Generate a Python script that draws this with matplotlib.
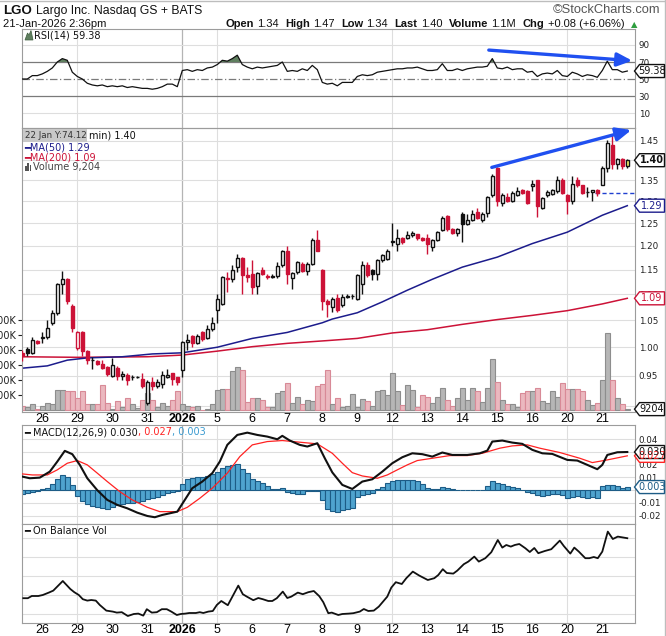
import matplotlib
matplotlib.use("Agg")
import matplotlib.pyplot as plt
import matplotlib.transforms as mtransforms
from matplotlib import font_manager
from matplotlib.patches import Polygon, Rectangle
from matplotlib.offsetbox import TextArea, HPacker, AnnotationBbox
from matplotlib.ticker import NullLocator
from matplotlib.lines import Line2D
import numpy as np

# LGO hourly bars, 24-Dec-2025 .. 21-Jan-2026 (bar index 0..121)
opens = [0.99, 0.997, 0.99, 1.012, 1.017, 1.018, 1.045, 1.063, 1.12, 1.13,
         1.077, 0.998, 1.027, 0.993, 0.978, 0.976, 0.971, 0.965, 0.95, 0.964,
         0.95, 0.952, 0.947, 0.948, 0.944, 0.905, 0.939, 0.933, 0.936, 0.948,
         0.954, 0.947, 0.96, 1.01, 1.021, 1.008, 1.027, 1.017, 1.034, 1.07,
         1.08, 1.132, 1.13, 1.155, 1.175, 1.138, 1.14, 1.117, 1.15, 1.137,
         1.135, 1.136, 1.16, 1.19, 1.132, 1.145, 1.162, 1.148, 1.162, 1.213,
         1.15, 1.087, 1.075, 1.092, 1.078, 1.095, 1.097, 1.09, 1.12, 1.16,
         1.15, 1.14, 1.17, 1.172, 1.21, 1.205, 1.217, 1.217, 1.224, 1.225,
         1.218, 1.217, 1.198, 1.212, 1.235, 1.267, 1.237, 1.228, 1.27, 1.248,
         1.258, 1.275, 1.257, 1.273, 1.315, 1.38, 1.296, 1.31, 1.30, 1.315,
         1.328, 1.325, 1.337, 1.35, 1.285, 1.315, 1.318, 1.325, 1.352, 1.315,
         1.30, 1.35, 1.338, 1.322, 1.322, 1.327, 1.34, 1.38, 1.44, 1.39,
         1.404, 1.385]
highs = [0.995, 1.0, 1.019, 1.013, 1.027, 1.05, 1.07, 1.122, 1.148, 1.132,
         1.08, 1.03, 1.03, 0.995, 0.983, 0.977, 0.978, 0.966, 0.98, 0.966,
         0.958, 0.954, 0.952, 0.95, 0.955, 0.942, 0.948, 0.945, 0.958, 0.962,
         0.955, 0.948, 1.012, 1.025, 1.022, 1.025, 1.03, 1.04, 1.055, 1.10,
         1.137, 1.145, 1.16, 1.182, 1.177, 1.155, 1.17, 1.145, 1.155, 1.14,
         1.14, 1.165, 1.192, 1.2, 1.145, 1.168, 1.165, 1.165, 1.218, 1.235,
         1.152, 1.09, 1.095, 1.1, 1.1, 1.1, 1.1, 1.14, 1.168, 1.165,
         1.152, 1.172, 1.182, 1.193, 1.25, 1.237, 1.22, 1.232, 1.232, 1.227,
         1.22, 1.225, 1.215, 1.232, 1.267, 1.268, 1.24, 1.24, 1.275, 1.27,
         1.28, 1.285, 1.275, 1.312, 1.365, 1.382, 1.32, 1.32, 1.325, 1.335,
         1.33, 1.327, 1.35, 1.352, 1.31, 1.327, 1.33, 1.36, 1.355, 1.318,
         1.36, 1.358, 1.34, 1.335, 1.328, 1.33, 1.385, 1.452, 1.467, 1.405,
         1.405, 1.402]
lows = [0.975, 0.985, 0.988, 1.006, 1.007, 1.015, 1.04, 1.06, 1.10, 1.08,
        1.027, 0.995, 0.985, 0.97, 0.962, 0.968, 0.962, 0.95, 0.948, 0.943,
        0.943, 0.935, 0.943, 0.946, 0.93, 0.902, 0.926, 0.93, 0.93, 0.946,
        0.935, 0.935, 0.948, 0.995, 1.0, 1.005, 1.012, 1.015, 1.03, 1.045,
        1.078, 1.105, 1.125, 1.145, 1.10, 1.125, 1.10, 1.10, 1.138, 1.13,
        1.132, 1.133, 1.155, 1.12, 1.11, 1.14, 1.145, 1.138, 1.16, 1.188,
        1.07, 1.055, 1.065, 1.065, 1.075, 1.093, 1.09, 1.088, 1.10, 1.135,
        1.128, 1.128, 1.165, 1.17, 1.2, 1.19, 1.205, 1.215, 1.22, 1.212,
        1.21, 1.183, 1.19, 1.21, 1.232, 1.232, 1.225, 1.222, 1.208, 1.245,
        1.255, 1.26, 1.252, 1.265, 1.31, 1.29, 1.29, 1.298, 1.298, 1.312,
        1.318, 1.295, 1.325, 1.265, 1.282, 1.31, 1.315, 1.32, 1.318, 1.27,
        1.293, 1.335, 1.318, 1.31, 1.30, 1.313, 1.34, 1.37, 1.378, 1.378,
        1.378, 1.38]
closes = [0.985, 0.99, 1.013, 1.008, 1.018, 1.035, 1.063, 1.12, 1.13, 1.087,
          1.035, 1.027, 0.993, 0.977, 0.978, 0.97, 0.964, 0.953, 0.969, 0.95,
          0.953, 0.942, 0.948, 0.948, 0.932, 0.94, 0.932, 0.94, 0.951, 0.952,
          0.945, 0.939, 1.01, 1.013, 1.008, 1.021, 1.015, 1.034, 1.045, 1.09,
          1.135, 1.13, 1.15, 1.175, 1.138, 1.135, 1.115, 1.142, 1.14, 1.135,
          1.137, 1.158, 1.19, 1.14, 1.142, 1.165, 1.148, 1.162, 1.213, 1.19,
          1.087, 1.08, 1.09, 1.07, 1.095, 1.097, 1.097, 1.138, 1.16, 1.138,
          1.14, 1.17, 1.18, 1.19, 1.208, 1.217, 1.208, 1.224, 1.228, 1.217,
          1.213, 1.205, 1.212, 1.23, 1.262, 1.237, 1.228, 1.237, 1.248, 1.258,
          1.27, 1.262, 1.27, 1.31, 1.36, 1.30, 1.315, 1.30, 1.32, 1.325,
          1.32, 1.297, 1.342, 1.29, 1.307, 1.322, 1.327, 1.352, 1.32, 1.30,
          1.342, 1.338, 1.32, 1.323, 1.326, 1.32, 1.38, 1.445, 1.39, 1.404,
          1.385, 1.40]
volume_k = [33, 22, 44, 7, 27, 49, 44, 138, 138, 127,
            129, 82, 133, 44, 44, 40, 173, 49, 11, 60,
            22, 82, 44, 16, 67, 116, 67, 22, 49, 33,
            71, 127, 44, 33, 22, 33, 4, 11, 40, 138,
            144, 144, 260, 293, 267, 56, 84, 84, 71, 22,
            22, 116, 133, 182, 49, 89, 44, 67, 62, 160,
            178, 267, 40, 82, 22, 33, 111, 22, 78, 62,
            27, 133, 138, 104, 251, 127, 38, 171, 138, 22,
            104, 93, 49, 89, 149, 73, 29, 84, 151, 73,
            147, 131, 56, 151, 344, 193, 73, 44, 44, 22,
            118, 127, 131, 153, 60, 53, 127, 93, 184, 140,
            140, 140, 133, 67, 38, 51, 200, 516, 200, 82,
            44, 9.204]

ma50_idx = [0, 5, 9, 13, 20, 26, 32, 39, 46, 53, 60, 62, 67, 72, 77, 82, 88, 95, 102, 109, 116, 121]
ma50_val = [0.963, 0.967, 0.977, 0.981, 0.983, 0.988, 0.99, 1.0, 1.016, 1.027, 1.045, 1.052,
            1.064, 1.085, 1.108, 1.13, 1.155, 1.176, 1.205, 1.23, 1.268, 1.29]
ma200_idx = [0, 11, 25, 32, 39, 46, 53, 61, 67, 74, 81, 88, 95, 102, 109, 116, 121]
ma200_val = [0.983, 0.982, 0.983, 0.986, 0.993, 1.001, 1.007, 1.012, 1.016, 1.026, 1.032,
             1.042, 1.051, 1.059, 1.068, 1.081, 1.092]

rsi = [50, 50, 54, 54, 56, 59, 63, 70, 74, 72,
       58, 53, 50, 45, 43, 42, 43, 41, 42, 41,
       42, 40, 41, 40, 39, 39, 38, 39, 41, 44,
       44, 41, 60, 61, 59, 61, 60, 63, 64, 67,
       72, 71, 74, 78, 67, 64, 62, 64, 63, 64,
       65, 66, 70, 59, 60, 59, 62, 60, 66, 61,
       46, 44, 45, 42, 46, 46, 46, 53, 55, 54,
       55, 58, 59, 60, 61, 62, 62, 63, 63, 64,
       62, 60, 60, 61, 68, 60, 60, 62, 60, 62,
       63, 64, 64, 65, 74, 63, 62, 64, 61, 62,
       62, 58, 59, 53, 56, 57, 56, 60, 54, 53,
       58, 56, 53, 55, 54, 52, 60, 71, 61, 61,
       58, 59.38]

macd_idx = [0, 1.5, 3.5, 5.5, 7, 8.5, 10, 11.5, 13, 15, 17, 19, 21, 23, 25, 26.5, 28, 31,
            32.5, 34, 36, 38, 39.5, 41, 43, 45, 47, 49, 51, 52, 53.5, 55.5, 57, 59, 60.5,
            62, 64, 66, 68, 70, 72, 74, 76, 78, 80, 82, 84, 86, 89, 91.5, 93, 94, 96, 98,
            100, 102, 104, 106, 109, 111, 113, 115, 116, 117, 119, 121]
macd_val = [0.0107, 0.0094, 0.0099, 0.0146, 0.0225, 0.0309, 0.0283, 0.0199, 0.0094, 0.0,
            -0.0076, -0.0115, -0.0142, -0.0176, -0.0202, -0.0212, -0.0194, -0.0168,
            -0.0076, 0.0016, 0.0068, 0.0134, 0.0225, 0.0356, 0.0434, 0.0452, 0.0434,
            0.0421, 0.040, 0.0427, 0.039, 0.0356, 0.0343, 0.0369, 0.0251,
            0.014, 0.0042, 0.001, 0.0068, 0.0086, 0.0146, 0.0212, 0.0259, 0.029, 0.0283,
            0.0264, 0.0296, 0.0277, 0.0277, 0.029, 0.0311, 0.0382, 0.039, 0.0374,
            0.0364, 0.0317, 0.029, 0.0285, 0.0238, 0.0233, 0.0199, 0.0165, 0.0199,
            0.0277, 0.0298, 0.030]
signal_idx = [0, 2, 5, 7, 9, 11, 13, 15, 17, 19.5, 22, 25, 27.5, 31, 33, 35.5, 38, 41, 43.5,
              46, 49, 52, 55.5, 59, 62, 64, 66, 68, 71, 73, 75, 77, 79, 82, 85.5, 89, 92,
              95.5, 98, 101, 103.5, 107.5, 111.5, 114, 117, 121]
signal_val = [0.0128, 0.012, 0.012, 0.016, 0.0212, 0.0233, 0.0199, 0.0134, 0.0068, -0.0011,
              -0.0076, -0.0134, -0.0168, -0.0168, -0.0134, -0.0063, 0.0016, 0.0134, 0.0264,
              0.0356, 0.0382, 0.039, 0.0377, 0.0364, 0.029, 0.0212, 0.0138, 0.0112, 0.0094,
              0.012, 0.016, 0.0199, 0.0233, 0.0251, 0.0272, 0.0272, 0.029,
              0.033, 0.0348, 0.0356, 0.033, 0.0296, 0.0251, 0.0217, 0.0238, 0.027]
macd_hist = [-0.0031, -0.0018, -0.0013, -0.0005, 0.0008, 0.0021, 0.0047, 0.0086, 0.0118, 0.0107,
             0.0039, -0.0045, -0.0084, -0.011, -0.0123, -0.0128, -0.0139, -0.0144, -0.0128, -0.0118,
             -0.011, -0.0102, -0.0097, -0.0092, -0.0084, -0.0071, -0.0063, -0.005, -0.0039, -0.0024,
             -0.0013, -0.0005, 0.0047, 0.0086, 0.0094, 0.0107, 0.0107, 0.0113, 0.0126, 0.0144,
             0.0178, 0.0191, 0.0199, 0.0204, 0.0165, 0.0139, 0.0092, 0.0073, 0.006, 0.0034,
             0.0013, 0.0013, 0.0021, -0.0013, -0.0024, -0.0031, -0.0026, -0.0005, -0.0005, -0.0005,
             -0.0079, -0.0144, -0.0162, -0.017, -0.0154, -0.0144, -0.0136, -0.005, -0.0039, -0.0031,
             -0.0018, 0.0013, 0.0029, 0.006, 0.0073, 0.0079, 0.0079, 0.0079, 0.0079, 0.0073,
             0.0052, 0.0021, 0.0013, 0.0013, 0.0026, 0.0018, 0.0008, 0.0, 0.0, 0.0,
             0.0003, 0.0005, 0.0005, 0.0034, 0.0073, 0.006, 0.0047, 0.0034, 0.0026, 0.0021,
             0.0, -0.0013, -0.0024, -0.0039, -0.0045, -0.0037, -0.0031, -0.0031, -0.0039, -0.0058,
             -0.005, -0.0045, -0.005, -0.0058, -0.0052, -0.0058, 0.0034, 0.0039, 0.0045, 0.0034,
             0.0021, 0.0025]

obv_idx = [0.2, 1.1, 1.9, 3.2, 4.1, 5.3, 6.2, 8.1, 9.6, 10.4,
           11.3, 12.1, 13.0, 13.8, 14.7, 15.5, 16.8, 18.1, 18.9, 19.9,
           21.1, 22.3, 23.2, 24.2, 24.9, 25.9, 26.9, 27.9, 28.9, 29.8,
           30.9, 31.7, 32.6, 33.4, 34.7, 35.5, 36.2, 37.2, 38.1, 38.9,
           39.8, 41.1, 43.2, 44.1, 44.9, 46.2, 47.2, 48.1, 49.2, 50.0,
           50.9, 52.1, 53.0, 53.8, 55.1, 56.1, 57.2, 58.3, 59.4, 60.2,
           61.2, 61.9, 63.2, 64.0, 65.3, 66.2, 67.5, 68.3, 69.2, 70.3,
           71.3, 73.0, 73.8, 74.7, 75.9, 76.8, 78.1, 79.4, 81.1, 82.4,
           83.2, 84.1, 84.9, 86.2, 87.0, 88.3, 89.2, 90.4, 91.3, 92.6,
           93.8, 95.1, 96.0, 96.8, 97.7, 98.5, 99.4, 100.6, 101.5, 102.4,
           103.2, 104.5, 105.8, 107.5, 108.3, 109.6, 110.4, 111.3, 112.6, 113.4,
           114.3, 115.1, 116.0, 117.1, 118.1, 119.1, 121.0]
obv_m = [1.17, 1.17, 1.28, 1.28, 1.33, 1.45, 1.55, 2.03, 1.63, 1.47,
         1.33, 1.12, 1.05, 1.08, 1.05, 0.83, 0.55, 0.50, 0.45, 0.47,
         0.28, 0.38, 0.40, 0.30, 0.62, 0.45, 0.47, 0.62, 0.62, 0.50,
         0.33, 0.38, 0.40, 0.43, 0.43, 0.47, 0.43, 0.50, 0.53, 0.83,
         1.03, 0.82, 1.80, 1.37, 1.25, 1.07, 1.18, 1.12, 1.03, 1.03,
         1.17, 1.50, 1.18, 1.25, 1.45, 1.37, 1.47, 1.53, 1.27, 0.97,
         0.42, 0.45, 0.33, 0.38, 0.40, 0.42, 0.50, 0.63, 0.53, 0.55,
         0.75, 1.25, 1.70, 1.97, 1.88, 2.17, 2.50, 2.30, 2.08, 2.17,
         2.33, 2.62, 2.43, 2.40, 2.55, 2.87, 3.00, 3.25, 3.00, 3.17,
         3.47, 4.08, 3.70, 3.83, 3.75, 3.83, 3.88, 3.67, 3.48, 3.68,
         3.42, 3.53, 3.62, 4.05, 3.78, 3.40, 3.70, 3.50, 3.17, 3.17,
         3.23, 3.17, 3.50, 4.50, 4.13, 4.25, 4.17]

day_starts = [4, 11, 18, 25, 32, 39, 46, 53, 60, 67, 74, 81, 88, 95, 102, 109, 116]
day_labels = ['26', '29', '30', '31', '2026', '5', '6', '7', '8', '9',
              '12', '13', '14', '15', '16', '20', '21']
week_lines = [11, 39, 74, 109]
year_line = 32
prev_close = 1.32

price_ticks = [0.90, 0.95, 1.00, 1.05, 1.10, 1.15, 1.20, 1.25, 1.30, 1.35, 1.40, 1.45]
vol_ticks = [100, 200, 300, 400, 500, 600]
rsi_ticks = [10, 30, 50, 70, 90]
macd_ticks = [-0.02, -0.01, 0.0, 0.01, 0.02, 0.03, 0.04]
obv_grid = [0.38, 1.33, 2.28, 3.22, 4.17]

# hand-drawn trend arrows (bar index, value)
price_arrow = ((93.9, 1.382), (121.8, 1.478))
rsi_arrow = ((93.3, 84.0), (122.0, 71.5))


def pick(name, alt):
    try:
        font_manager.findfont(name, fallback_to_default=False)
        return name
    except Exception:
        return alt


NARROW = pick('Liberation Sans Narrow', 'Liberation Sans')
plt.rcParams['font.family'] = ['DejaVu Sans']

RED = '#cc1237'
NAVY = '#1c1c8c'
BLUE = '#2050f0'
GRID = '#dedede'
W, H = 666, 636
XMIN, XMAX = -0.06, 122.44
ID = mtransforms.IdentityTransform()

fig = plt.figure(figsize=(W / 100, H / 100), dpi=100)


def panel(top, bottom):
    return fig.add_axes([22 / W, 1 - bottom / H, (634.5 - 22) / W, (bottom - top) / H])


def style(a):
    for s in a.spines.values():
        s.set_color('#9c9c9c')
        s.set_linewidth(0.8)
    a.set_xlim(XMIN, XMAX)
    a.tick_params(axis='y', which='both', left=False, right=True, labelleft=False,
                  labelright=True, labelsize=6.3, length=0, pad=3, colors='#222222')
    a.tick_params(axis='x', which='both', bottom=False, labelbottom=False)


def vgrid(a):
    for d in week_lines:
        a.axvline(d, color=GRID, lw=0.8, zorder=0)
    a.axvline(year_line, color='#b4b4b4', lw=0.9, zorder=0)


def ftext(x, y, s, **kw):
    return fig.text(x, H - y, s, transform=ID, **kw)


def rich(x, y, parts, align=0, sep=0):
    boxes = [TextArea(s, textprops=p) for s, p in parts]
    pack = HPacker(children=boxes, sep=sep, pad=0, align='baseline')
    ab = AnnotationBbox(pack, (x, H - y), xycoords='figure pixels',
                        box_alignment=(align, 0.5), frameon=False, pad=0)
    fig.add_artist(ab)


def tag(a, value, text, color, bold=False, txtcolor=None):
    y = a.transData.transform((0, value))[1]
    x0 = 634.5
    pts = [(x0, y), (x0 + 5, y + 6.5), (x0 + 30, y + 6.5), (x0 + 30, y - 6.5), (x0 + 5, y - 6.5)]
    fig.add_artist(Polygon(pts, closed=True, transform=ID, fc='white', ec=color, lw=1.0, zorder=5))
    fig.text(x0 + 17.5, y, text, transform=ID, ha='center', va='center', fontsize=7,
             color=txtcolor or color, fontweight='bold' if bold else 'normal', zorder=6)


def date_labels(a):
    a.set_xticks(day_starts)
    a.set_xticklabels(day_labels)
    a.tick_params(axis='x', labelbottom=True, length=0, pad=1, labelsize=9)
    for lab in a.get_xticklabels():
        lab.set_family(NARROW)
        if lab.get_text() == '2026':
            lab.set_fontweight('bold')


# ---------------- RSI panel ----------------
ax_rsi = panel(29, 128)
style(ax_rsi)
ax_rsi.set_ylim(-7.6, 108.8)
ax_rsi.set_yticks(rsi_ticks)
ax_rsi.set_yticklabels([str(t) for t in rsi_ticks])
vgrid(ax_rsi)
for lvl in (10, 90):
    ax_rsi.axhline(lvl, color=GRID, lw=0.8, zorder=0)
for lvl in (30, 70):
    ax_rsi.axhline(lvl, color='#7a7a7a', lw=0.9, zorder=1)
ax_rsi.axhline(50, color='#7a7a7a', lw=0.9, ls=(0, (6, 2, 1, 2)), zorder=1)
xr = np.arange(len(rsi))
rsi_arr = np.array(rsi, dtype=float)
ax_rsi.fill_between(xr, rsi_arr, 70, where=rsi_arr > 70, interpolate=True,
                    color='#5f7f5f', lw=0, zorder=2)
ax_rsi.plot(xr, rsi_arr, color='#111111', lw=0.9, zorder=3)
ax_rsi.annotate('', xy=rsi_arrow[1], xytext=rsi_arrow[0],
                arrowprops=dict(arrowstyle='-|>,head_length=0.9,head_width=0.4',
                                color=BLUE, lw=2.4, shrinkA=0, shrinkB=0),
                annotation_clip=False, zorder=6)

# ---------------- price panel ----------------
ax = panel(128, 412)
ax_vol = ax.twinx()
style(ax)
ax.set_yscale('log')
ax.set_ylim(0.890, 1.4835)
ax.set_yticks(price_ticks)
ax.set_yticklabels([f'{t:.2f}' for t in price_ticks])
ax.yaxis.set_minor_locator(NullLocator())
ax.set_zorder(ax_vol.get_zorder() + 1)
ax.patch.set_visible(False)

ax_vol.set_ylim(-10, 1883)
for s in ax_vol.spines.values():
    s.set_visible(False)
ax_vol.yaxis.tick_left()
ax_vol.set_yticks(vol_ticks)
ax_vol.set_yticklabels([f'{v}K' for v in vol_ticks])
ax_vol.tick_params(axis='y', labelsize=7, length=3, pad=1, colors='#222222', width=0.8)
vgrid(ax_vol)
blend = mtransforms.blended_transform_factory(ax_vol.transAxes, ax.transData)
for p in price_ticks:
    ax_vol.plot([0, 1], [p, p], transform=blend, color=GRID, lw=0.8, zorder=0)

n = len(closes)
x = np.arange(n)
o = np.array(opens)
c = np.array(closes)
prev = np.concatenate([[o[0]], c[:-1]])
up = c >= prev
edge = ['#111111' if u else RED for u in up]
face = ['white' if cc > oo else e for oo, cc, e in zip(o, c, edge)]
face[-1] = '#ffff70'

vcol = ['#b6b6b6' if u else '#ebb8bf' for u in up]
vedge = ['#8d8d8d' if u else '#d88a97' for u in up]
ax_vol.bar(x, volume_k, width=1.0, color=vcol, edgecolor=vedge, linewidth=0.8, zorder=2)

ax.plot(ma200_idx, ma200_val, color=RED, lw=1.1, zorder=2)
ax.plot(ma50_idx, ma50_val, color=NAVY, lw=1.1, zorder=2)
ax.hlines(prev_close, 114.6, XMAX, colors='#2040d0', linestyles=(0, (3, 2)), lw=1.0, zorder=2)

ax.vlines(x, lows, highs, colors=edge, lw=1.0, zorder=3)
ax.bar(x, np.abs(c - o), bottom=np.minimum(o, c), width=0.72, color=face,
       edgecolor=edge, linewidth=1.0, zorder=4)
ax.annotate('', xy=price_arrow[1], xytext=price_arrow[0],
            arrowprops=dict(arrowstyle='-|>,head_length=0.9,head_width=0.4',
                            color=BLUE, lw=2.4, shrinkA=0, shrinkB=0),
            annotation_clip=False, zorder=6)
date_labels(ax)

# ---------------- MACD panel ----------------
ax_m = panel(425, 524)
style(ax_m)
ax_m.set_ylim(-0.0265, 0.0512)
ax_m.set_yticks(macd_ticks)
ax_m.set_yticklabels([f'{t:.2f}' for t in macd_ticks])
vgrid(ax_m)
for t in macd_ticks:
    ax_m.axhline(t, color=GRID, lw=0.8, zorder=0)
ax_m.bar(x, macd_hist, width=1.0, color='#4fa3cf', edgecolor='#1d5c86', linewidth=0.8, zorder=2)
ax_m.plot(signal_idx, signal_val, color='#ff2222', lw=0.9, zorder=3)
ax_m.plot(macd_idx, macd_val, color='#111111', lw=1.5, zorder=4)

# ---------------- OBV panel ----------------
ax_o = panel(524, 623)
style(ax_o)
ax_o.set_ylim(-0.07, 4.88)
ax_o.set_yticks(obv_grid)
ax_o.set_yticklabels([])
vgrid(ax_o)
for t in obv_grid:
    ax_o.axhline(t, color=GRID, lw=0.8, zorder=0)
ax_o.plot(obv_idx, obv_m, color='#111111', lw=1.3, zorder=3)
date_labels(ax_o)

# ---------------- right-hand value tags ----------------
tag(ax_rsi, rsi[-1], f'{rsi[-1]:.2f}', '#111111')
tag(ax, closes[-1], f'{closes[-1]:.2f}', '#111111', bold=True)
tag(ax, ma50_val[-1], '1.29', NAVY)
tag(ax, ma200_val[-1], '1.09', RED)
tag(ax_vol, volume_k[-1], '9204', '#111111')
tag(ax_m, signal_val[-1], '0.027', '#ff2222')
tag(ax_m, macd_val[-1], '0.030', '#111111')
tag(ax_m, macd_hist[-1], '0.003', '#1d5c86')

# ---------------- header ----------------
NB = dict(family=NARROW, fontsize=8.8, color='#111111')
rich(3, 11, [('LGO', dict(family=NARROW, fontsize=9.6, fontweight='bold', color='#111111')),
             ('Largo Inc. Nasdaq GS + BATS', NB)], sep=3)
SB = dict(NB, fontsize=8.0)
rich(3, 24, [('21-Jan-2026 2:36pm', SB)])
rich(660, 10, [('\u00a9StockCharts.com', dict(family='Liberation Sans', fontsize=9.3, color='#555555'))],
     align=1)
bold = dict(SB, fontweight='bold')
groups = [('Open', '1.34'), ('High', '1.47'), ('Low', '1.34'), ('Last', '1.40'),
          ('Volume', '1.1M'), ('Chg', '+0.08 (+6.06%)')]
boxes = []
for lbl, val in groups:
    boxes.append(HPacker(children=[TextArea(lbl, textprops=bold), TextArea(val, textprops=SB)],
                         sep=2.5, pad=0, align='baseline'))
boxes.append(TextArea('\u25b2', textprops=dict(family='DejaVu Sans', fontsize=6, color='#2e9e3e')))
fig.add_artist(AnnotationBbox(HPacker(children=boxes, sep=4.5, pad=0, align='baseline'),
                              (637, H - 24), xycoords='figure pixels', box_alignment=(1, 0.5),
                              frameon=False, pad=0))

# thin frame along the top and right edge of the image
fig.add_artist(Line2D([0, W], [H - 0.5, H - 0.5], transform=ID, color='#bdbdbd', lw=1))
fig.add_artist(Line2D([W - 1.5, W - 1.5], [0, H], transform=ID, color='#bdbdbd', lw=1))

# ---------------- panel legends ----------------
fig.add_artist(Polygon([(25, H - 40), (27.5, H - 33), (29, H - 35), (31, H - 30.5), (33, H - 40)],
                       closed=True, transform=ID, fc='#5f7f5f', ec='#3f5f3f', lw=0.5))
ftext(34, 35.5, 'RSI(14) 59.38', fontsize=7, va='center', color='#111111')

fig.add_artist(Rectangle((23, H - 142), 64, 13, transform=ID, fc='#c8c8c8', ec='none', zorder=4))
ftext(25, 135.5, '22 Jan Y:74.12', fontsize=6.3, va='center', color='#333333', zorder=5)
ftext(89, 135.5, 'min) 1.40', fontsize=7, va='center', color='#111111')
ftext(24, 147, '\u2501MA(50) 1.29', fontsize=7, va='center', color=NAVY)
ftext(24, 157, '\u2501MA(200) 1.09', fontsize=7, va='center', color=RED)
for k, hgt in enumerate((5, 8, 6)):
    fig.add_artist(Rectangle((25 + 2.3 * k, H - 171), 1.8, hgt, transform=ID,
                             fc='#555555', ec='none'))
ftext(33, 167, 'Volume 9,204', fontsize=7, va='center', color='#444444')

rich(24, 432.5, [('\u2501 MACD(12,26,9) 0.030', dict(fontsize=7, color='#111111')),
                 (', 0.027', dict(fontsize=7, color='#ff2222')),
                 (', 0.003', dict(fontsize=7, color='#3a9ad0'))])
ftext(24, 531.5, '\u2501 On Balance Vol', fontsize=7, va='center', color='#111111')

fig.savefig('out.png', dpi=100)
